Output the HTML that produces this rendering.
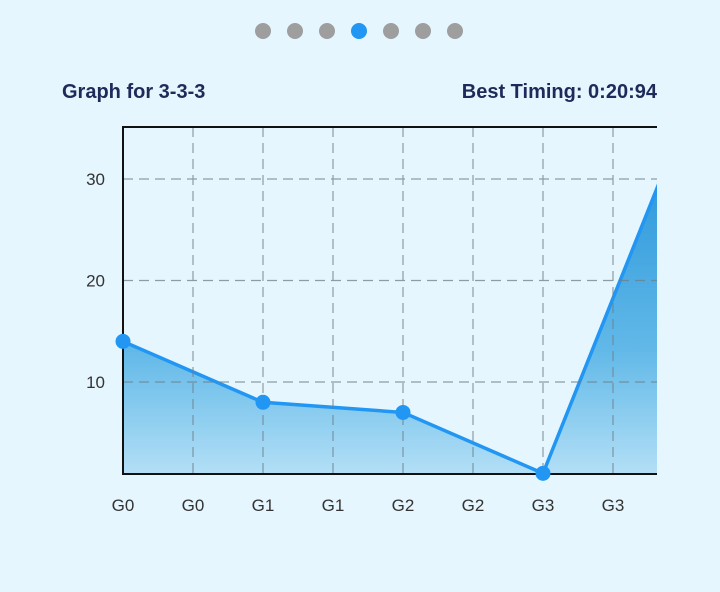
<!DOCTYPE html>
<html><head><meta charset="utf-8"><style>
html,body{margin:0;padding:0;background:#e6f6fe;}
body{width:720px;height:587px;position:relative;overflow:hidden;font-family:"Liberation Sans",sans-serif;}
</style></head><body>
<svg width="720" height="587">
<defs>
<linearGradient id="fillg" x1="0" y1="0" x2="0" y2="1">
<stop offset="0" stop-color="#1f8fd8"/>
<stop offset="0.65" stop-color="#62b9e8"/>
<stop offset="1" stop-color="#b3dff6"/>
</linearGradient>
<clipPath id="plotclip"><rect x="123" y="127" width="534" height="347"/></clipPath>
</defs>
<g id="dots"></g>
<text x="62" y="98" font-size="20" font-weight="bold" fill="#1e2a5a">Graph for 3-3-3</text>
<text x="657" y="98" font-size="20" font-weight="bold" fill="#1e2a5a" text-anchor="end">Best Timing: 0:20:94</text>
<g id="series" clip-path="url(#plotclip)"></g>
<g id="grid" opacity="0.75"></g>
<line x1="123" y1="127" x2="657" y2="127" stroke="#111" stroke-width="2"/>
<line x1="123" y1="126" x2="123" y2="475" stroke="#111" stroke-width="2"/>
<line x1="123" y1="474" x2="657" y2="474" stroke="#111" stroke-width="2"/>
<g id="pts"></g>
<g id="labels"></g>
</svg>
<script>
const categories=["G0","G0","G1","G1","G2","G2","G3","G3"];
const pointIdx=[0,2,4,6,8];
const values=[14,8,7,1,35.5];
const yTicks=[10,20,30];
const pageCount=7, activePage=3;

const NS="http://www.w3.org/2000/svg";
function mk(t,a,p){const e=document.createElementNS(NS,t);for(const k in a)e.setAttribute(k,a[k]);p.appendChild(e);return e;}
const xS=i=>123+i*70;
const yS=v=>483.5-10.15*v;

const dots=document.getElementById('dots');
for(let i=0;i<pageCount;i++){
 const c=mk('circle',{cx:263+i*32,cy:31,r:8,fill:i===activePage?'#2196f3':'#9e9e9e'},dots);
 
 
}
const grid=document.getElementById('grid'),labels=document.getElementById('labels');
for(let i=1;i<categories.length;i++){
 const l=mk('line',{x1:xS(i),y1:127,x2:xS(i),y2:474,stroke:'#6f7f88','stroke-width':1.2,'stroke-dasharray':'10 6'},grid);
 
 
}
categories.forEach((c,i)=>{
 const t=mk('text',{x:xS(i),y:511,'font-size':17,fill:'#333','text-anchor':'middle'},labels);
 t.textContent=c;
 
 
});
yTicks.forEach(v=>{
 const l=mk('line',{x1:123,y1:yS(v),x2:657,y2:yS(v),stroke:'#6f7f88','stroke-width':1.2,'stroke-dasharray':'10 6'},grid);
 
 
 const t=mk('text',{x:105,y:yS(v)+6,'font-size':17,fill:'#333','text-anchor':'end'},labels);
 t.textContent=v;
 
 
});
const ser=document.getElementById('series');
const pts=pointIdx.map((ix,k)=>[xS(ix),yS(values[k])]);
let d='M'+pts.map(p=>p.join(',')).join(' L');
const area=mk('path',{d:d+` L${pts[pts.length-1][0]},474 L${pts[0][0]},474 Z`,fill:'url(#fillg)'},ser);


const line=mk('path',{d:d,fill:'none',stroke:'#2196f3','stroke-width':3.5,'stroke-linejoin':'round'},ser);


const pg=document.getElementById('pts');
pts.forEach(p=>{
 if(p[0]>657)return;
 const c=mk('circle',{cx:p[0],cy:p[1],r:7.5,fill:'#2196f3'},pg);
 
 
});
</script>
</body></html>
